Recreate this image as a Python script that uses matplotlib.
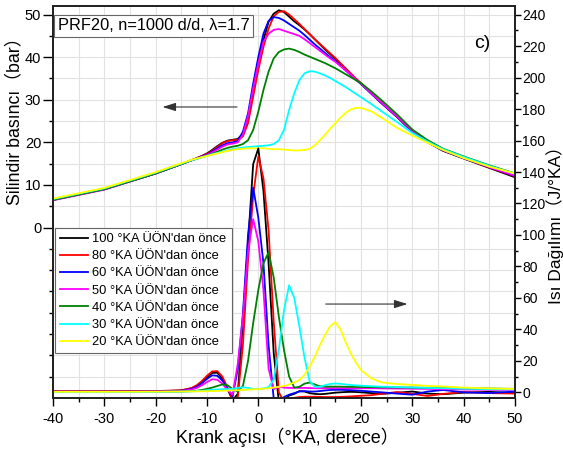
import numpy as np
import matplotlib
matplotlib.use('Agg')
import matplotlib.pyplot as plt
from matplotlib.ticker import MultipleLocator, FixedLocator

plt.rcParams['font.family'] = ['Liberation Sans', 'Noto Sans CJK JP']
plt.rcParams['axes.unicode_minus'] = False

# Crank angle (°KA) sample points
crank = [-40, -30, -20, -15, -13, -12, -11, -10, -9, -8, -7, -6, -5, -4, -3, -2, -1,
         0, 1, 2, 3, 4, 5, 6, 7, 8, 9, 10, 11, 12, 13, 14, 15, 16, 17, 18, 19, 20,
         22, 24, 27, 30, 33, 36, 40, 45, 50]

labels = ["100 °KA ÜÖN'dan önce", "80 °KA ÜÖN'dan önce", "60 °KA ÜÖN'dan önce",
          "50 °KA ÜÖN'dan önce", "40 °KA ÜÖN'dan önce", "30 °KA ÜÖN'dan önce",
          "20 °KA ÜÖN'dan önce"]
colors = ['black', '#ff0000', '#0000ff', '#ff00ff', '#008000', '#00ffff', '#ffff00']

# Cylinder pressure (bar) - left axis
p_100 = [6.5, 9.0, 12.7, 14.9, 15.8, 16.3, 16.8, 17.4, 18.2, 19.1, 19.9, 20.4, 20.6, 20.8, 22.0, 25.6, 32.3,
         38.5, 44.0, 48.3, 50.2, 51.0, 50.6, 49.5, 48.4, 47.5, 46.5, 45.4, 44.2, 43.0, 41.8, 40.7, 39.6, 38.4, 37.2, 36.0, 34.9, 33.8,
         31.5, 29.2, 26.0, 22.5, 20.0, 18.0, 16.2, 14.0, 11.8]
p_80 = [6.5, 9.0, 12.7, 14.9, 15.8, 16.3, 16.8, 17.3, 18.0, 18.9, 19.8, 20.3, 20.5, 20.6, 21.4, 24.5, 30.7,
        37.0, 42.4, 46.7, 49.6, 50.6, 50.8, 50.0, 48.9, 47.8, 46.6, 45.4, 44.2, 43.1, 42.0, 40.9, 39.8, 38.6, 37.4, 36.2, 35.0, 33.9,
        31.6, 29.3, 26.0, 22.6, 20.1, 18.1, 16.3, 14.1, 12.0]
p_60 = [6.5, 9.0, 12.7, 14.9, 15.8, 16.2, 16.7, 17.1, 17.8, 18.6, 19.3, 19.8, 20.0, 20.3, 22.5, 26.8, 33.8,
        40.0, 45.5, 48.5, 49.4, 49.2, 48.6, 47.8, 47.0, 46.2, 45.2, 44.1, 43.0, 42.0, 41.0, 40.0, 39.1, 38.0, 36.9, 35.8, 34.7, 33.7,
        31.4, 29.2, 26.0, 22.6, 20.1, 18.1, 16.3, 14.2, 12.1]
p_50 = [6.4, 8.9, 12.7, 14.9, 15.8, 16.2, 16.6, 17.0, 17.6, 18.3, 19.0, 19.5, 19.7, 20.0, 21.8, 26.2, 32.7,
        38.5, 43.6, 45.5, 46.4, 46.6, 46.2, 45.8, 45.4, 45.0, 44.2, 43.3, 42.4, 41.5, 40.6, 39.7, 38.9, 37.9, 36.9, 35.9, 34.8, 33.8,
        31.5, 29.3, 26.1, 22.7, 20.2, 18.2, 16.4, 14.2, 12.2]
p_40 = [6.5, 9.0, 12.7, 14.9, 15.8, 16.2, 16.5, 16.9, 17.3, 17.8, 18.3, 18.7, 19.0, 19.2, 19.6, 20.5, 22.9,
        27.2, 32.3, 36.6, 39.7, 41.2, 41.8, 42.0, 41.7, 41.2, 40.6, 40.1, 39.6, 39.1, 38.6, 38.0, 37.4, 36.7, 36.0, 35.3, 34.6, 33.9,
        32.0, 29.9, 26.6, 23.0, 20.5, 18.5, 16.7, 14.6, 12.7]
p_30 = [6.7, 9.2, 12.9, 15.0, 15.8, 16.1, 16.5, 16.8, 17.2, 17.5, 17.8, 18.1, 18.4, 18.6, 18.8, 18.9, 19.0,
        19.1, 19.2, 19.3, 19.6, 20.5, 22.9, 27.6, 31.5, 34.6, 36.2, 36.7, 36.6, 36.2, 35.7, 35.1, 34.4, 33.7, 33.0, 32.2, 31.4, 30.6,
        29.0, 27.3, 24.8, 22.2, 20.2, 18.4, 16.6, 14.5, 12.6]
p_20 = [6.8, 9.3, 13.0, 15.1, 15.9, 16.2, 16.5, 16.8, 17.1, 17.4, 17.7, 18.0, 18.2, 18.4, 18.5, 18.6, 18.6,
        18.6, 18.6, 18.5, 18.4, 18.4, 18.3, 18.2, 18.1, 18.1, 18.2, 18.5, 19.3, 20.5, 21.8, 23.2, 24.5, 25.8, 26.9, 27.7, 28.1, 28.1,
        27.3, 25.8, 23.4, 21.6, 19.9, 18.2, 16.3, 14.3, 12.7]

# Heat release (J/°KA) - right axis
hr_100 = [0.5, 0.5, 0.6, 1.2, 2.5, 4.0, 6.5, 9.5, 12.3, 12.5, 8.5, 2.0, -5.0, -1.0, 45, 95, 145,
          155, 128, 82, 25, -6, -5, -2, -1, 0.8, 0.5, -0.5, -1.0, -1.2, -1.0, -0.6, -0.2, 0.0, 0.2, 0.3, 0.2, 0.0,
          -0.5, -1.0, -0.3, 0.5, -0.8, -1.2, -0.2, 0.3, -0.5]
hr_80 = [0.7, 0.7, 0.8, 1.3, 2.8, 4.5, 7.2, 10.5, 13.3, 13.5, 10.0, 3.0, -5.0, -3.0, 30, 84, 125,
         150, 136, 103, 45, 0, -6, -5, -3.5, -3.0, -2.8, -2.8, -2.8, -2.9, -3.0, -3.0, -3.0, -2.9, -2.8, -2.6, -2.4, -2.2,
         -1.8, -1.0, 0.2, -1.0, -2.3, -1.0, 0.2, -0.5, -0.8]
hr_60 = [0.4, 0.4, 0.5, 1.0, 2.2, 3.5, 5.8, 8.5, 10.8, 10.5, 7.5, 2.5, -2.5, 15, 50, 100, 130,
         111, 82, 30, -4, -5, -3, -1.5, -0.5, 0.5, 0.8, 0.5, 0.5, 0.8, 1.2, 1.5, 1.6, 1.6, 1.5, 1.4, 1.2, 1.0,
         0.5, 0.0, -0.8, -1.5, 0.5, 1.5, 0.0, -0.5, 0.5]
hr_50 = [0.3, 0.3, 0.4, 0.8, 1.8, 2.8, 4.5, 6.5, 8.3, 8.0, 5.5, 1.5, -1.5, 18, 48, 90, 110,
         96, 65, 15, 2.0, 3.5, 3.0, 2.8, 2.8, 2.8, 2.8, 2.7, 2.6, 2.6, 2.6, 2.6, 2.6, 2.6, 2.6, 2.6, 2.6, 2.6,
         2.6, 2.5, 2.4, 2.3, 2.2, 2.0, 1.8, 1.6, 1.4]
hr_40 = [0.2, 0.2, 0.3, 0.5, 0.8, 1.0, 1.5, 2.2, 3.0, 4.0, 5.0, 4.5, 2.0, 0.5, 4.0, 20, 44,
         65, 82, 89, 73, 48, 27, 10, 3.0, 3.5, 5.5, 6.2, 5.0, 3.8, 3.6, 3.6, 3.6, 3.6, 3.5, 3.5, 3.4, 3.4,
         3.3, 3.2, 3.1, 3.0, 2.9, 2.8, 2.6, 2.4, 2.2]
hr_30 = [0.1, 0.1, 0.2, 0.4, 0.6, 0.8, 1.0, 1.3, 1.6, 1.8, 2.0, 2.0, 2.2, 2.8, 3.2, 2.8, 2.2,
         2.0, 2.5, 3.2, 8, 27, 52, 68, 60, 42, 22, 7, 3.6, 3.5, 4.5, 5.3, 5.6, 5.4, 5.0, 4.7, 4.4, 4.2,
         3.9, 3.6, 3.3, 3.0, 2.8, 2.6, 2.3, 2.0, 1.8]
hr_20 = [0.3, 0.3, 0.4, 0.5, 0.6, 0.6, 0.7, 0.7, 0.8, 0.9, 1.0, 1.1, 1.2, 1.3, 1.5, 1.7, 1.9,
         2.0, 2.3, 2.6, 3.0, 3.5, 4.0, 5.0, 6.2, 7.8, 11, 16.3, 22.5, 30, 36.5, 42, 44.5, 40, 32, 24.8, 19, 14.2,
         8.9, 6.3, 5.3, 4.7, 4.1, 3.7, 3.0, 2.5, 2.1]

pressure = [p_100, p_80, p_60, p_50, p_40, p_30, p_20]
heat = [hr_100, hr_80, hr_60, hr_50, hr_40, hr_30, hr_20]

fig = plt.figure(figsize=(5.63, 4.55), dpi=100)
ax = fig.add_axes([0.0941, 0.1253, 0.8206, 0.8615])
ax2 = ax.twinx()

handles = []
for p, c, lab in zip(pressure, colors, labels):
    line, = ax.plot(crank, p, color=c, lw=1.3, label=lab)
    handles.append(line)
for h, c in zip(heat, colors):
    ax2.plot(crank, h, color=c, lw=1.3)

ax.set_xlim(-40, 50)
ax.set_ylim(-40, 52)
ax2.set_ylim(-3.6, 245.5)

# ticks
ax.xaxis.set_major_locator(MultipleLocator(10))
ax.xaxis.set_minor_locator(MultipleLocator(5))
ax.yaxis.set_major_locator(FixedLocator([0, 10, 20, 30, 40, 50]))
ax.yaxis.set_minor_locator(FixedLocator([v for v in range(-35, 51, 5) if v < 0 or v % 10 != 0]))
ax2.yaxis.set_major_locator(MultipleLocator(20))
ax2.yaxis.set_minor_locator(MultipleLocator(10))
ax.tick_params(axis='x', which='major', direction='out', length=6, width=1, pad=4, labelsize=10.5)
ax.tick_params(axis='x', which='minor', direction='out', length=3, width=1)
ax.tick_params(axis='y', which='major', direction='out', length=7, width=1, pad=1.5, labelsize=10.5)
ax.tick_params(axis='y', which='minor', direction='out', length=3, width=1)
ax2.tick_params(axis='y', which='major', direction='out', length=4, width=1, pad=1.2, labelsize=10)
ax2.tick_params(axis='y', which='minor', direction='out', length=2.5, width=1)
for a in (ax, ax2):
    for s in a.spines.values():
        s.set_linewidth(1.3)
        s.set_color('#222222')

ax.grid(which='both', color='#e2e2e2', lw=0.8)
ax.set_axisbelow(True)

# labels
fig.text(0.51, 0.038, 'Krank açısı（°KA, derece）', ha='center', va='center', fontsize=13)
fig.text(0.026, 0.743, 'Silindir basıncı（bar）', rotation=90, ha='center', va='center', fontsize=12.8)
fig.text(0.986, 0.514, 'Isı Dağılımı（J/°KA）', rotation=90, ha='center', va='center', fontsize=12.5)

# legend
leg = ax2.legend(handles, labels, loc='upper left', bbox_to_anchor=(0.004, 0.434),
                 fontsize=9.3, frameon=True, fancybox=False, framealpha=1, edgecolor='#666666',
                 borderaxespad=0, handlelength=2.2, handletextpad=0.3, labelspacing=0.4,
                 borderpad=0.4)
leg.get_frame().set_linewidth(0.8)

ax2.text(0.011, 0.949, 'PRF20, n=1000 d/d, λ=1.7', transform=ax2.transAxes, fontsize=11.8,
         ha='left', va='center',
         bbox=dict(boxstyle='square,pad=0.22', fc='white', ec='#666666', lw=0.8))
ax2.text(0.929, 0.905, 'c)', transform=ax2.transAxes, fontsize=14, ha='center', va='center')

# arrows pointing at the matching axis
ax.annotate('', xy=(-19.2, 28.3), xytext=(-3.6, 28.3),
            arrowprops=dict(arrowstyle='-|>,head_length=0.8,head_width=0.25', color='#333333', lw=0.8))
ax2.annotate('', xy=(29.6, 56.1), xytext=(12.6, 56.1),
             arrowprops=dict(arrowstyle='-|>,head_length=0.8,head_width=0.25', color='#333333', lw=0.8))

fig.savefig('out.png', dpi=100)
